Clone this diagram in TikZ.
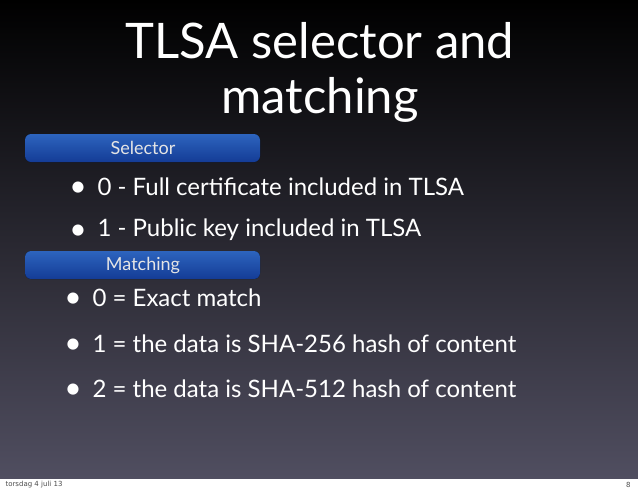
\documentclass[tikz,border=0pt]{standalone}
\usepackage{fontspec}
\setmainfont{Lato}
\newfontfamily\dejavu{DejaVu Sans}
\begin{document}
\begin{tikzpicture}[x=1pt,y=-1pt,
  bar/.style={rounded corners=6pt,top color={rgb,255:red,45;green,100;blue,190},bottom color={rgb,255:red,20;green,60;blue,150},draw=none},
  barlabel/.style={text=white!90!black,font=\fontsize{18}{20}\selectfont},
  item/.style={anchor=west,text=white,font=\fontsize{24}{30}\selectfont},
  dot/.style={anchor=center,text=white,font=\fontsize{30}{30}\selectfont}]
\useasboundingbox (0,0) rectangle (638,491);
\fill[white] (0,0) rectangle (638,491);
\shade[top color=black,bottom color={rgb,255:red,80;green,78;blue,96}] (0,0) rectangle (638,478);
\node[text=white,align=center,font=\fontsize{49}{55}\selectfont] (title) at (320,72) {TLSA selector and\\matching};
\fill[bar] (25,134) rectangle (260,162);
\node[barlabel] (sel) at (143,148) {Selector};
\fill[bar] (25,251) rectangle (260,279);
\node[barlabel] (mat) at (143,266) {Matching};
\node[dot] (b1) at (78,189) {•};
\node[item] (t1) at (94,187) {0 - Full certificate included in TLSA};
\node[dot] (b2) at (78,232) {•};
\node[item] (t2) at (94,230) {1 - Public key included in TLSA};
\node[dot] (b3) at (73,300) {•};
\node[item] (t3) at (89,298) {0 = Exact match};
\node[dot] (b4) at (73,346) {•};
\node[item] (t4) at (89,344) {1 = the data is SHA-256 hash of content};
\node[dot] (b5) at (73,391) {•};
\node[item] (t5) at (89,389) {2 = the data is SHA-512 hash of content};
\node[anchor=west,font=\dejavu\fontsize{7}{8}\selectfont,text=black!70] (d) at (2,485) {torsdag 4 juli 13};
\node[anchor=east,font=\dejavu\fontsize{7}{8}\selectfont,text=black!70] (p) at (634,485) {8};
\end{tikzpicture}
\end{document}
